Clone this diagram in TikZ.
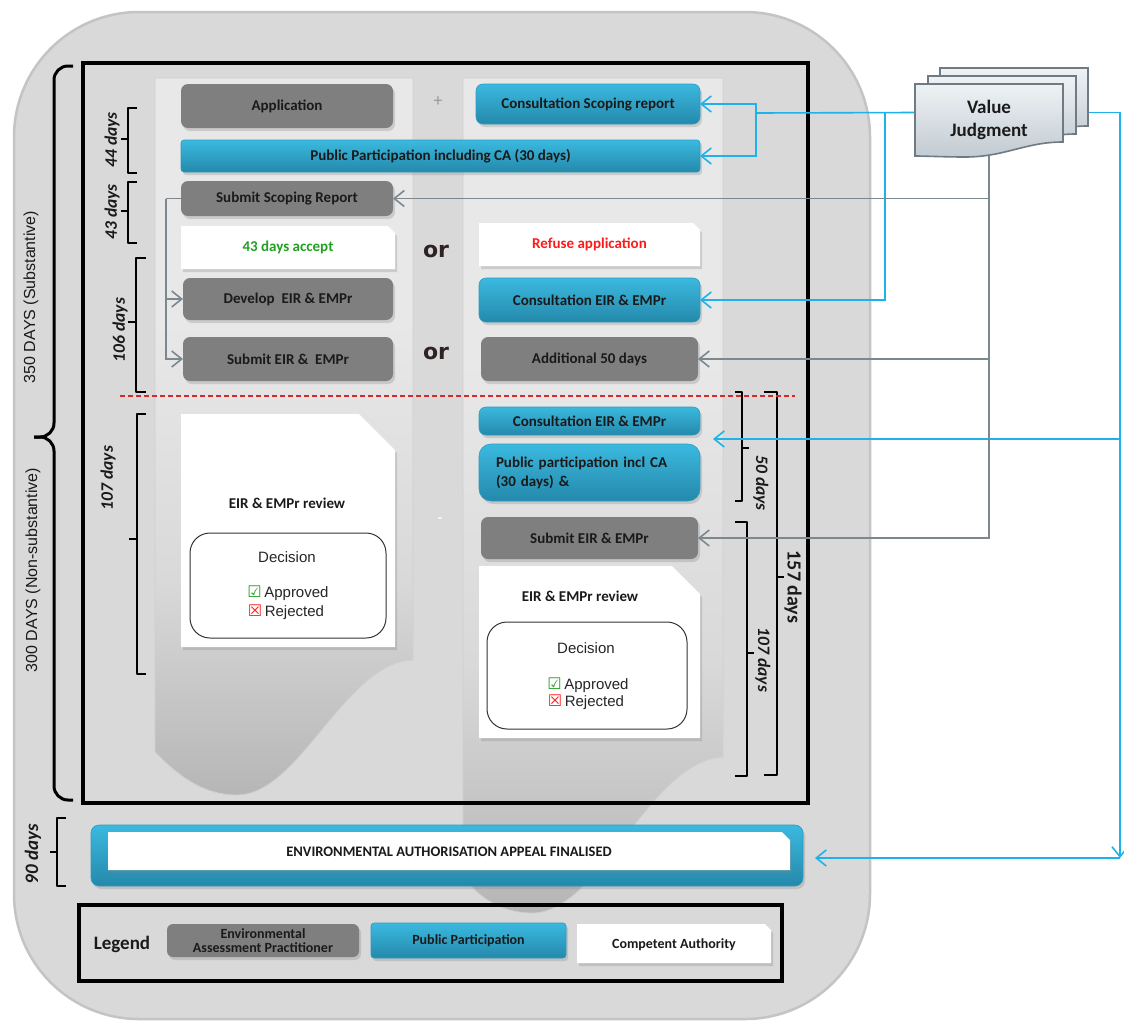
\documentclass[tikz,border=0pt]{standalone}
\usepackage{fontspec}
\setmainfont{Carlito}
\newfontfamily\arialf{Liberation Sans}
\newfontfamily\dejaf{DejaVu Sans}
\usetikzlibrary{arrows.meta,shadows,calc}
\definecolor{outergray}{HTML}{D9D9D9}
\definecolor{outeredge}{HTML}{C4C4C4}
\definecolor{boxgray}{HTML}{7F7F7F}
\definecolor{bluetop}{HTML}{3BB9DF}
\definecolor{bluebot}{HTML}{2489AB}
\definecolor{blueedge}{HTML}{2B9CC2}
\definecolor{linkblue}{HTML}{1EB2EA}
\definecolor{linkgray}{HTML}{7D878E}
\definecolor{txt}{HTML}{1A1A1A}
\definecolor{okgreen}{HTML}{22A022}
\definecolor{nored}{HTML}{FF1A1A}
\definecolor{dashred}{HTML}{D42A2A}
\definecolor{orcol}{HTML}{2E2222}
\definecolor{panT}{HTML}{E8E8E8}
\definecolor{panM}{HTML}{D9D9D9}
\definecolor{panB}{HTML}{B6B6B6}
\definecolor{panE}{HTML}{CFCFCF}
\definecolor{vjT}{HTML}{EEF2F5}
\definecolor{vjB}{HTML}{C2CBD2}
\definecolor{vjE}{HTML}{6F7B84}
\pgfdeclareverticalshading{panelshade}{100bp}{color(0bp)=(panB); color(25bp)=(panB); color(40bp)=(panM); color(58bp)=(panT); color(75bp)=(panT); color(100bp)=(panT)}
\newcommand\fsz[2]{\fontsize{#1}{#2}\selectfont}
\newcommand\docpath[5]{% cx cy w h cut
  \fill[white, drop shadow={opacity=.28,shadow xshift=2pt,shadow yshift=-3pt}]
    ({#1-#3/2},{#2-#4/2}) -- ({#1+#3/2-#5},{#2-#4/2}) -- ({#1+#3/2},{#2-#4/2+#5}) -- ({#1+#3/2},{#2+#4/2}) -- ({#1-#3/2},{#2+#4/2}) -- cycle;}
\newcommand\vjshape[2]{%
  \path[vjdoc] (#1,#2) -- ({#1+148},#2) -- ({#1+148},{#2+58})
    .. controls ({#1+110},{#2+58}) and ({#1+90},{#2+73}) .. ({#1+50},{#2+73})
    .. controls ({#1+30},{#2+73}) and ({#1+10},{#2+72}) .. (#1,{#2+72}) -- cycle;}
\tikzset{
  base/.style={inner sep=0pt, outer sep=0pt, align=center, text=txt, font=\bfseries\fsz{15}{17}},
  shd/.style={drop shadow={opacity=.28,shadow xshift=2pt,shadow yshift=-3pt}},
  graybox/.style={base, fill=boxgray, rounded corners=7pt, shd},
  bluebox/.style={base, top color=bluetop, bottom color=bluebot, draw=blueedge, line width=.6pt, rounded corners=7pt, shd},
  wtext/.style={base},
  decbox/.style={inner sep=0pt, outer sep=0pt, draw=black!80, line width=1pt, fill=white, rounded corners=20pt},
  dectext/.style={inner sep=0pt, text=black!85, font=\arialf\fsz{15}{17}},
  panel/.style={shading=panelshade, draw=panE, line width=.8pt},
  brk/.style={draw=black, line width=1.3pt, line join=round},
  daylab/.style={inner sep=0pt, text=txt, font=\bfseries\itshape\fsz{17.5}{19}},
  bline/.style={draw=linkblue, line width=1.6pt},
  barrow/.style={bline, -{Straight Barb[length=10pt,width=16pt]}},
  gline/.style={draw=linkgray, line width=1.6pt},
  garrow/.style={gline, -{Straight Barb[length=10pt,width=16pt]}},
  vjdoc/.style={top color=vjT, bottom color=vjB, draw=vjE, line width=1.6pt},
  orlab/.style={inner sep=0pt, text=orcol, font=\dejaf\bfseries\fsz{22}{22}},
  frame/.style={draw=black, line width=4pt, inner sep=0pt, outer sep=0pt}
}
\begin{document}
\begin{tikzpicture}[x=1pt,y=-1pt]
\useasboundingbox (0,0) rectangle (1124,1021);
\fill[white] (0,0) rectangle (1124,1021);
% outer rounded background
\path[fill=outergray, draw=outeredge, line width=2.5pt, rounded corners=125pt] (14,12) rectangle (870,1019);
% column panels
\path[panel] (155,78) -- (413,78) -- (413,660) .. controls (345,662) and (300,795) .. (237,795) .. controls (200,795) and (175,772) .. (155,752) -- cycle;
\path[panel] (463,78) -- (723,78) -- (723,757) .. controls (650,760) and (600,913) .. (532,913) .. controls (500,913) and (475,895) .. (463,875) -- cycle;
% black frame
\node[frame, minimum width=725pt, minimum height=740pt] (mainframe) at (445.5,433) {};
% big left brace
\draw[line width=3pt, rounded corners=14pt] (73,66) -- (54,66) -- (54,437) -- (34,437);
\draw[line width=3pt, rounded corners=14pt] (34,437) -- (54,437) -- (54,800) -- (73,800);
\node[inner sep=0pt, rotate=90, font=\arialf\fsz{16}{16}, text=txt] (t350) at (31,297) {350 DAYS (Substantive)};
\node[inner sep=0pt, rotate=90, font=\arialf\fsz{16}{16}, text=txt] (t300) at (33,570) {300 DAYS (Non-substantive)};
% left small brackets
\draw[brk] (137,108) -- (128,108) -- (128,173) -- (137,173) (128,139) -- (121,139);
\node[daylab, rotate=90] (d44) at (112,140) {44 days};
\draw[brk] (137,182) -- (128,182) -- (128,243) -- (137,243) (128,211) -- (121,211);
\node[daylab, rotate=90] (d43) at (112,212) {43 days};
\draw[brk] (146,258) -- (136,258) -- (136,392) -- (146,392) (136,322) -- (128,322);
\node[daylab, rotate=90] (d106) at (120,330) {106 days};
\draw[brk] (146,414) -- (137,414) -- (137,674) -- (146,674) (137,539) -- (129,539);
\node[daylab, rotate=90] (d107a) at (108,478) {107 days};
\draw[brk] (66,818) -- (57,818) -- (57,886) -- (66,886) (57,852) -- (50,852);
\node[daylab, rotate=90, font=\bfseries\itshape\fsz{19}{19}] (d90) at (33,854) {90 days};
% right brackets
\draw[brk] (735,392) -- (742,392) -- (742,501) -- (735,501) (742,448) -- (749,448);
\node[daylab, rotate=-90] (d50) at (761,483) {50 days};
\draw[brk] (764,392) -- (777,392) -- (777,775) -- (764,775) (777,577) -- (784,577);
\node[inner sep=0pt, rotate=-90, text=txt, font=\bfseries\fsz{20}{20}] (d157) at (793,587) {157 days};
\draw[brk] (735,522) -- (747,522) -- (747,776) -- (735,776) (747,653) -- (754,653);
\node[daylab, rotate=-90] (d107b) at (763,660) {107 days};
% top section boxes
\node[graybox, minimum width=212pt, minimum height=44pt] (app) at (287,106) {Application};
\node[inner sep=0pt, text=black!40, font=\fsz{18}{18}] (plus) at (438,102) {+};
\node[bluebox, minimum width=224pt, minimum height=40pt] (csr) at (588,104) {Consultation Scoping report};
\node[bluebox, rounded corners=3pt, minimum width=519pt, minimum height=32pt] (ppca) at (440.5,156) {Public Participation including CA (30 days)};
\node[graybox, minimum width=212pt, minimum height=35pt] (ssr) at (287,198.5) {Submit Scoping Report};
\docpath{288}{247.5}{214}{43}{7}
\node[wtext, text=okgreen, minimum width=214pt, minimum height=43pt] (acc) at (288,247.5) {43 days accept};
\docpath{589.5}{244.5}{221}{43}{7}
\node[wtext, text=nored, minimum width=221pt, minimum height=43pt] (ref) at (589.5,244.5) {Refuse application};
\node[orlab] (or1) at (436,251) {or};
\node[graybox, minimum width=210pt, minimum height=42pt] (dev) at (288,299) {Develop\ \ EIR \& EMPr};
\node[bluebox, minimum width=221pt, minimum height=44pt] (cee1) at (589.5,300) {Consultation EIR \& EMPr};
\node[graybox, minimum width=210pt, minimum height=44pt] (seir1) at (288,359) {Submit EIR \&\ \ EMPr};
\node[orlab] (or2) at (436,353) {or};
\node[graybox, minimum width=217pt, minimum height=44pt] (add) at (589.5,359) {Additional 50 days};
% dashed separator
\draw[dashred, line width=1.5pt, dash pattern=on 5pt off 3pt] (120,396) -- (795,396);
% lower left review
\docpath{288}{530.5}{214}{233}{36}
\node[wtext, minimum width=214pt, minimum height=233pt] (rev1) at (288,530.5) {};
\node[wtext] (rev1t) at (287,503) {EIR \& EMPr review};
\node[decbox, minimum width=196pt, minimum height=105pt] (dec1) at (288,585.5) {};
\node[dectext] (dec1h) at (287,557) {Decision};
\node[dectext] (dec1a) at (288,593) {{\dejaf\fsz{16}{16}\textcolor{okgreen}{☑}}\,Approved};
\node[dectext] (dec1r) at (286,612) {{\dejaf\fsz{16}{16}\textcolor{nored}{☒}}\,Rejected};
\node[inner sep=0pt, text=white, font=\bfseries\fsz{14}{14}] (dash) at (440,520) {-};
% lower right
\node[bluebox, minimum width=221pt, minimum height=28pt] (cee2) at (589.5,421) {Consultation EIR \& EMPr};
\node[bluebox, rounded corners=12pt, minimum width=221pt, minimum height=57pt, text width=187pt, align=left, font=\bfseries\fsz{15}{19}] (pp2) at (589.5,472.5) {Public participation incl CA\\(30 days) \&};
\node[graybox, minimum width=217pt, minimum height=42pt] (seir2) at (589.5,538) {Submit EIR \& EMPr};
\docpath{589.5}{652}{221}{172}{28}
\node[wtext, minimum width=221pt, minimum height=172pt] (rev2) at (589.5,652) {};
\node[wtext] (rev2t) at (580,596) {EIR \& EMPr review};
\node[decbox, minimum width=200pt, minimum height=107pt] (dec2) at (587,675.5) {};
\node[dectext] (dec2h) at (586,648) {Decision};
\node[dectext] (dec2a) at (588,685) {{\dejaf\fsz{16}{16}\textcolor{okgreen}{☑}}\,Approved};
\node[dectext] (dec2r) at (586,702) {{\dejaf\fsz{16}{16}\textcolor{nored}{☒}}\,Rejected};
% appeal
\node[bluebox, rounded corners=8pt, minimum width=712pt, minimum height=61pt] (appeal) at (447,855.5) {};
\docpath{449}{851}{682}{38}{8}
\node[wtext, font=\bfseries\fsz{14.5}{16}] (appealt) at (449,852) {ENVIRONMENTAL AUTHORISATION APPEAL FINALISED};
% legend
\node[frame, minimum width=703pt, minimum height=76pt] (legend) at (430.5,943) {};
\node[inner sep=0pt, text=txt, font=\bfseries\fsz{19}{19}] (legt) at (122,944) {Legend};
\node[graybox, rounded corners=6pt, minimum width=192pt, minimum height=33pt, font=\bfseries\fsz{14}{14.5}] (lg1) at (263,940.5) {Environmental\\Assessment Practitioner};
\node[bluebox, rounded corners=3pt, minimum width=195pt, minimum height=35pt, font=\bfseries\fsz{14}{16}] (lg2) at (468.5,940.5) {Public Participation};
\docpath{674}{943.5}{194}{39}{6}
\node[wtext, font=\bfseries\fsz{14}{16}, minimum width=194pt, minimum height=39pt] (lg3) at (674,944.5) {Competent Authority};
% value judgment anchor
\node[inner sep=0pt, outer sep=0pt, minimum width=148pt, minimum height=57pt] (vj) at (989,112.5) {};
% connectors
\coordinate (bj) at (756,113);
\coordinate (bk) at (885,113);
\coordinate (cR) at (1120,858);
\coordinate (cM) at (1120,439);
\coordinate (gl) at (166,300);
\draw[bline] (vj.west) -- (bj);
\draw[barrow] (bj) |- (csr.east);
\draw[barrow] (bj) |- (ppca.east);
\draw[barrow] (bk) |- (cee1.east);
\draw[barrow] (vj.east) -| (cR);
\draw[barrow, shorten >=12pt] (cR) -- (cR -| appeal.east);
\draw[barrow, shorten >=13pt] (cM) -- (cM -| cee2.east);
\draw[garrow] (vj.south) |- (seir2.east);
\draw[garrow] (vj.south |- ssr.east) -- (ssr.east);
\draw[garrow] (vj.south |- add.east) -- (add.east);
\draw[gline] (ssr.west) -- (ssr.west -| gl);
\draw[garrow] (ssr.west -| gl) |- (seir1.west);
\draw[garrow] (gl |- dev.west) -- (dev.west);
% value judgment stacked documents
\vjshape{940}{68}
\vjshape{928}{76}
\vjshape{915}{84}
\node[inner sep=0pt, text=txt, align=center, font=\bfseries\fsz{19}{23}] (vjt) at (989,120) {Value\\Judgment};
\end{tikzpicture}
\end{document}
